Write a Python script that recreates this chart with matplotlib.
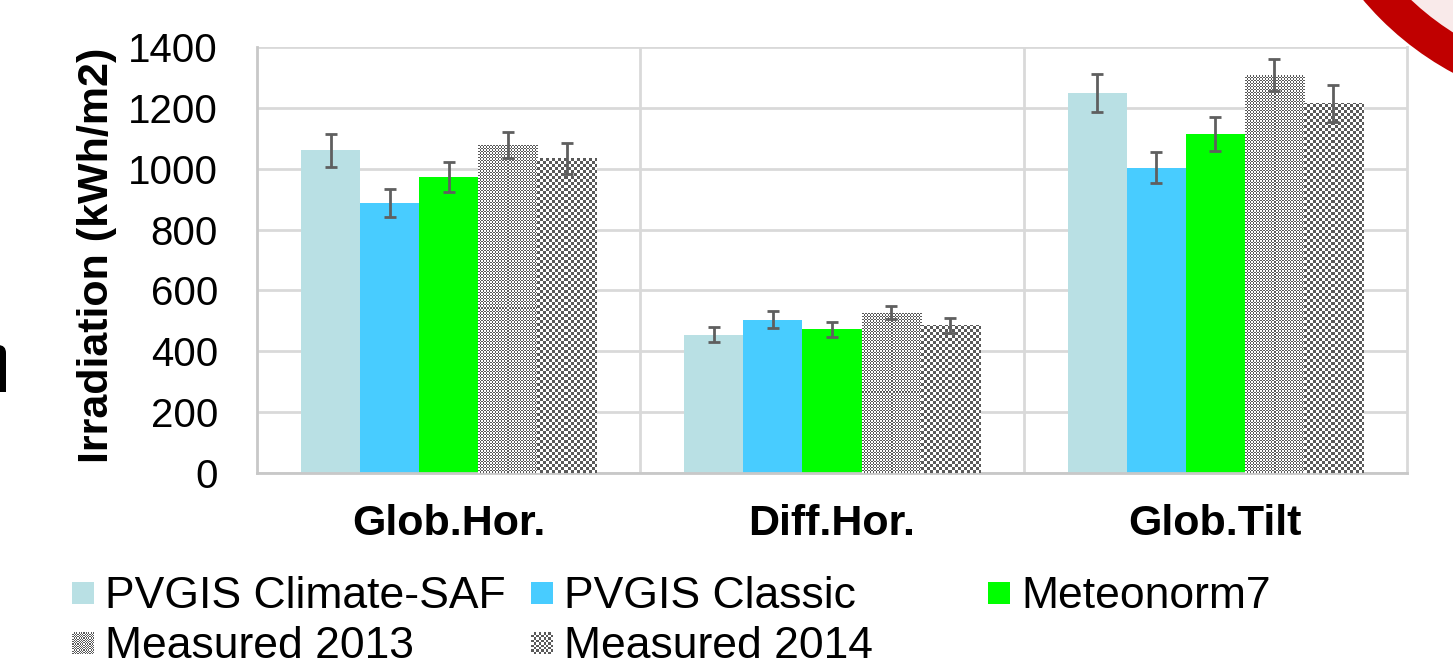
import numpy as np
import matplotlib
matplotlib.use("Agg")
import matplotlib.pyplot as plt
from matplotlib.colors import ListedColormap
from matplotlib.patches import Rectangle, Wedge, Circle, FancyBboxPatch

plt.rcParams['font.family'] = ['Liberation Sans', 'DejaVu Sans']

categories = ['Glob.Hor.', 'Diff.Hor.', 'Glob.Tilt']
series_names = ['PVGIS Climate-SAF', 'PVGIS Classic', 'Meteonorm7',
                'Measured 2013', 'Measured 2014']

climate_saf = [1061, 455, 1249]
classic = [887, 504, 1003]
meteonorm = [974, 472, 1114]
measured_2013 = [1078, 527, 1307]
measured_2014 = [1034, 485, 1215]

climate_saf_err = [54, 25, 63]
classic_err = [45, 27, 51]
meteonorm_err = [49, 24, 56]
measured_2013_err = [44, 21, 52]
measured_2014_err = [52, 24, 61]

y_ticks = [0, 200, 400, 600, 800, 1000, 1200, 1400]

values = [climate_saf, classic, meteonorm, measured_2013, measured_2014]
errors = [climate_saf_err, classic_err, meteonorm_err, measured_2013_err, measured_2014_err]
colors = ['#b9e0e4', '#48ccff', '#00ff00', None, None]
# None -> checker texture, cell size in pixels
textures = [None, None, None, 1.5, 3.0]

W, H = 1453, 666
fig = plt.figure(figsize=(W / 100, H / 100), dpi=100)
ax = fig.add_axes([257 / W, 1 - 473 / H, 1150 / W, 426 / H])

grid_col = '#d9d9d9'
ax.set_axisbelow(True)
ax.yaxis.grid(True, color=grid_col, lw=2)
ax.set_xticks([0.5, 1.5], minor=True)
ax.xaxis.grid(True, which='minor', color=grid_col, lw=2)
ax.spines['top'].set_visible(False)
ax.spines['right'].set_color(grid_col)
ax.spines['right'].set_linewidth(2)
ax.spines['left'].set_color('#c8c8c8')
ax.spines['left'].set_linewidth(2)
ax.spines['bottom'].set_color('#c8c8c8')
ax.spines['bottom'].set_linewidth(2)

x = np.arange(len(categories))
bw = 0.154
bar_sets = []
for j, (vals, err) in enumerate(zip(values, errors)):
    pos = x + (j - 2) * bw
    fc = colors[j] if colors[j] else 'white'
    bars = ax.bar(pos, vals, width=bw, color=fc, edgecolor='none', zorder=2)
    bar_sets.append(bars)
    ax.errorbar(pos, vals, yerr=err, fmt='none', ecolor='#5f5f5f',
                elinewidth=2, capsize=4.3, capthick=2, zorder=4)

ax.set_xlim(-0.5, 2.5)
ax.set_ylim(0, 1400)
ax.set_yticks(y_ticks)
ax.set_xticks(x)
ax.set_xticklabels(categories, fontsize=31, fontweight='bold')
ax.tick_params(axis='x', which='both', length=0, pad=22)
ax.tick_params(axis='y', length=0, pad=28, labelsize=29)
ax.set_ylabel('Irradiation (kWh/m2)', fontsize=31, fontweight='bold')
ax.yaxis.set_label_coords((117 - 257) / 1150, 0.512)


def checker(ny, nx, cell):
    iy = np.floor(np.arange(ny) / cell).astype(int)
    ix = np.floor(np.arange(nx) / cell).astype(int)
    return ((iy[:, None] + ix[None, :]) % 2).astype(float)


cmap = ListedColormap(['white', '#595959'])
for j, bars in enumerate(bar_sets):
    if textures[j] is None:
        continue
    for b in bars:
        x0, w, h = b.get_x(), b.get_width(), b.get_height()
        p0 = ax.transData.transform((x0, 0))
        p1 = ax.transData.transform((x0 + w, h))
        nx = max(int(round(p1[0] - p0[0])), 1)
        ny = max(int(round(p1[1] - p0[1])), 1)
        im = ax.imshow(checker(ny, nx, textures[j]), cmap=cmap, vmin=0, vmax=1,
                       extent=(x0, x0 + w, 0, h), origin='lower',
                       interpolation='nearest', aspect='auto', zorder=3)
        im.set_clip_path(b)
ax.set_xlim(-0.5, 2.5)
ax.set_ylim(0, 1400)

# overlay in pixel coordinates for legend and slide decorations
ov = fig.add_axes([0, 0, 1, 1], zorder=5)
ov.axis('off')
ov.patch.set_alpha(0)

leg_pos = [(72, 593), (531, 593), (988, 593), (72, 643), (531, 643)]
for j, name in enumerate(series_names):
    lx, ly = leg_pos[j]
    if textures[j] is None:
        ov.add_patch(Rectangle((lx, ly - 11), 22, 22, color=colors[j], lw=0))
    else:
        ov.imshow(checker(22, 22, textures[j] * 0.8), cmap=cmap, vmin=0, vmax=1,
                  extent=(lx, lx + 22, ly + 11, ly - 11), interpolation='nearest',
                  aspect='auto')
    ov.text(lx + 33, ly + 4, name, fontsize=32, va='center', ha='left')

# red ring in top right corner of the slide
ov.add_patch(Circle((1600, -200), 275, color='#f9eaea', lw=0))
ov.add_patch(Wedge((1600, -200), 310, 0, 360, width=35, color='#c00000', lw=0))
# cropped glyph at left edge
ov.add_patch(FancyBboxPatch((-20, 345), 26, 47, boxstyle='round,pad=0,rounding_size=8',
                            color='black', lw=0))
ov.add_patch(Rectangle((-20, 370), 26, 22, color='black', lw=0))
ov.set_xlim(0, W)
ov.set_ylim(H, 0)

fig.savefig('out.png', dpi=100)
